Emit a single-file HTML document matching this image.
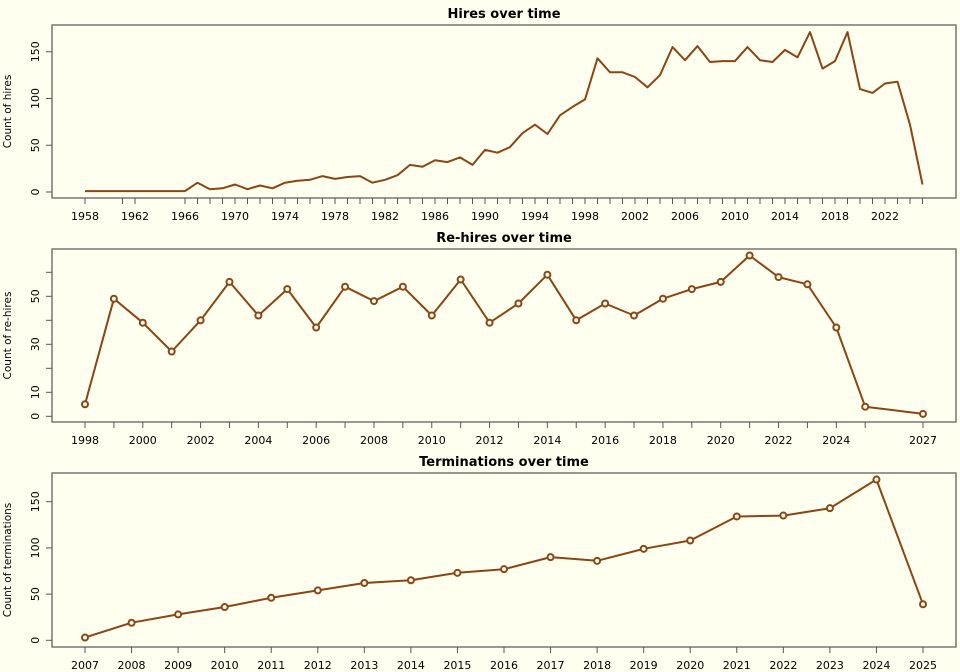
<!DOCTYPE html>
<html><head><meta charset="utf-8">
<style>
html,body{margin:0;padding:0;background:#fffff0;}
svg{display:block;font-family:"DejaVu Sans","Liberation Sans",sans-serif;}
</style></head>
<body>
<svg id="chart" width="960" height="672" viewBox="0 0 960 672" xmlns="http://www.w3.org/2000/svg">
<rect width="960" height="672" fill="#fffff0"/>
</svg>
<script>
// Hires data
const hireYears = [1958,1961,1962,1966,1967,1968,1969,1970,1971,1972,1973,1974,1975,1976,1977,1978,1979,1980,1981,1982,1983,1984,1985,1986,1987,1988,1989,1990,1991,1992,1993,1994,1995,1996,1997,1998,1999,2000,2001,2002,2003,2004,2005,2006,2007,2008,2009,2010,2011,2012,2013,2014,2015,2016,2017,2018,2019,2020,2021,2022,2023,2024,2025];
const hireCounts = [1,1,1,1,10,3,4,8,3,7,4,10,12,13,17,14,16,17,10,13,18,29,27,34,32,37,29,45,42,48,63,72,62,82,91,99,143,128,128,123,112,125,155,141,156,139,140,140,155,141,139,152,144,171,132,140,171,110,106,116,118,72,8];
const hireXLabels = [1958,1962,1966,1970,1974,1978,1982,1986,1990,1994,1998,2002,2006,2010,2014,2018,2022];
const hireYTicks = [0,50,100,150];
// Re-hires data
const rehireYears = [1998,1999,2000,2001,2002,2003,2004,2005,2006,2007,2008,2009,2010,2011,2012,2013,2014,2015,2016,2017,2018,2019,2020,2021,2022,2023,2024,2025,2027];
const rehireCounts = [5,49,39,27,40,56,42,53,37,54,48,54,42,57,39,47,59,40,47,42,49,53,56,67,58,55,37,4,1];
const rehireXLabels = [1998,2000,2002,2004,2006,2008,2010,2012,2014,2016,2018,2020,2022,2024,2027];
const rehireYTicks = [0,10,20,30,40,50,60];
const rehireYLabels = [0,10,30,50];
// Terminations data
const termYears = [2007,2008,2009,2010,2011,2012,2013,2014,2015,2016,2017,2018,2019,2020,2021,2022,2023,2024,2025];
const termCounts = [3,19,28,36,46,54,62,65,73,77,90,86,99,108,134,135,143,174,39];
const termXLabels = termYears;
const termYTicks = [0,50,100,150];

const NS = "http://www.w3.org/2000/svg";
const svg = document.getElementById('chart');
const COL = "#8B4513";
function mk(tag, attrs, parent){
  const e = document.createElementNS(NS, tag);
  for (const k in attrs) e.setAttribute(k, attrs[k]);
  (parent||svg).appendChild(e);
  return e;
}
function panel(cfg){
  const g = mk('g', {});
  
  
  const L = 52, R = 956;
  const xs = v => cfg.x0px + (v - cfg.xmin) * (cfg.x1px - cfg.x0px) / (cfg.xmax - cfg.xmin);
  const ys = v => cfg.y0px - v * cfg.ppu;
  const box = mk('rect', {x:L, y:cfg.top, width:R-L, height:cfg.bot-cfg.top, fill:'none', stroke:'#555', 'stroke-width':1.2}, g);
  
  
  const t = mk('text', {x:(L+R)/2, y:cfg.top-7, 'text-anchor':'middle', 'font-size':13, 'font-weight':'bold', fill:'#000'}, g);
  t.textContent = cfg.title;
  
  
  // x ticks
  cfg.years.forEach(yr => {
    mk('line', {x1:xs(yr), x2:xs(yr), y1:cfg.bot, y2:cfg.bot+6, stroke:'#555', 'stroke-width':1}, g);
  });
  cfg.xlabels.forEach(yr => {
    const tx = mk('text', {x:xs(yr), y:cfg.bot+22, 'text-anchor':'middle', 'font-size':11, fill:'#000'}, g);
    tx.textContent = yr;
    
    
  });
  // y ticks
  cfg.yticks.forEach(v => {
    mk('line', {x1:L-6, x2:L, y1:ys(v), y2:ys(v), stroke:'#555', 'stroke-width':1}, g);
  });
  cfg.ylabels.forEach(v => {
    const tx = mk('text', {x:0, y:0, transform:`translate(${L-13},${ys(v)}) rotate(-90)`, 'text-anchor':'middle', 'font-size':11, fill:'#000'}, g);
    tx.textContent = v;
    
    
  });
  const yt = mk('text', {x:0, y:0, transform:`translate(11,${(cfg.top+cfg.bot)/2}) rotate(-90)`, 'text-anchor':'middle', 'font-size':10.5, fill:'#000'}, g);
  yt.textContent = cfg.ytitle;
  
  
  const pts = cfg.years.map((yr,i) => xs(yr).toFixed(1) + ',' + ys(cfg.vals[i]).toFixed(1)).join(' ');
  const pl = mk('polyline', {points:pts, fill:'none', stroke:COL, 'stroke-width':2, 'stroke-linejoin':'round'}, g);
  
  
  if (cfg.markers) {
    cfg.years.forEach((yr,i) => {
      const c = mk('circle', {cx:xs(yr), cy:ys(cfg.vals[i]), r:3, fill:'#fffff0', stroke:COL, 'stroke-width':2}, g);
      
      
    });
  }
}
panel({name:'hires', title:'Hires over time', ytitle:'Count of hires', top:25, bot:198,
  years:hireYears, vals:hireCounts, xlabels:hireXLabels, yticks:hireYTicks, ylabels:hireYTicks,
  xmin:1958, xmax:2022, x0px:85, x1px:885, y0px:192, ppu:0.935, markers:false});
panel({name:'rehires', title:'Re-hires over time', ytitle:'Count of re-hires', top:249, bot:422,
  years:rehireYears, vals:rehireCounts, xlabels:rehireXLabels, yticks:rehireYTicks, ylabels:rehireYLabels,
  xmin:1998, xmax:2027, x0px:85, x1px:923, y0px:416.3, ppu:2.4, markers:true});
panel({name:'terminations', title:'Terminations over time', ytitle:'Count of terminations', top:473, bot:647,
  years:termYears, vals:termCounts, xlabels:termXLabels, yticks:termYTicks, ylabels:termYTicks,
  xmin:2007, xmax:2025, x0px:85, x1px:923, y0px:640.3, ppu:0.924, markers:true});
</script>
</body></html>
